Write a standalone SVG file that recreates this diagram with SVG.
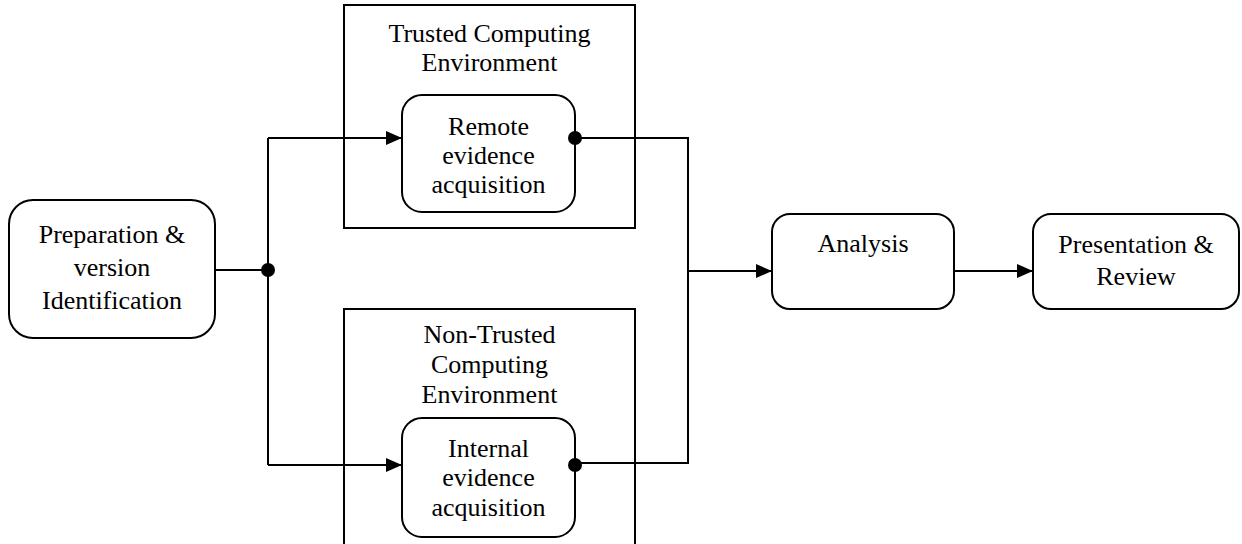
<svg xmlns="http://www.w3.org/2000/svg" width="1242" height="544" viewBox="0 0 1242 544">
<style>
.box{fill:#fff;stroke:#000;stroke-width:2}
.cont{fill:none;stroke:#000;stroke-width:2}
.ln{fill:none;stroke:#000;stroke-width:2}
.dot{fill:#000}
text{font-family:"Liberation Serif","Times New Roman",serif;font-size:26px;fill:#000;text-anchor:middle}
</style>
<defs>
<marker id="arr" viewBox="0 0 16 14" refX="16" refY="7" markerWidth="16" markerHeight="14" markerUnits="userSpaceOnUse" orient="auto">
<path d="M0,0 L16,7 L0,14 Z" fill="#000"/>
</marker>
</defs>
<g id="trusted-env">
<rect class="cont" x="344" y="5" width="291" height="223"/>
<text x="489.5" y="42">Trusted Computing</text>
<text x="489.5" y="71">Environment</text>
</g>
<g id="nontrusted-env">
<rect class="cont" x="344" y="309" width="291" height="260"/>
<text x="489.5" y="343">Non-Trusted</text>
<text x="489.5" y="373">Computing</text>
<text x="489.5" y="403">Environment</text>
</g>
<g id="connectors">
<path class="ln" d="M215,270 H268"/>
<path class="ln" d="M268,138 V465"/>
<path class="ln" d="M268,138 H402" marker-end="url(#arr)"/>
<path class="ln" d="M268,465 H402" marker-end="url(#arr)"/>
<path class="ln" d="M575,138 H688 V463 H575"/>
<path class="ln" d="M688,271 H772" marker-end="url(#arr)"/>
<path class="ln" d="M954,271 H1033" marker-end="url(#arr)"/>
<circle class="dot" cx="268" cy="270" r="7"/>
</g>
<g id="prep">
<rect class="box" x="9" y="200" width="206" height="138" rx="24"/>
<text x="112" y="243">Preparation &amp;</text>
<text x="112" y="276">version</text>
<text x="112" y="309">Identification</text>
</g>
<g id="remote">
<rect class="box" x="402" y="95" width="173" height="117" rx="20"/>
<text x="488.5" y="135">Remote</text>
<text x="488.5" y="164">evidence</text>
<text x="488.5" y="193">acquisition</text>
<circle class="dot" cx="575" cy="138" r="7"/>
</g>
<g id="internal">
<rect class="box" x="402" y="418" width="173" height="119" rx="20"/>
<text x="488.5" y="457">Internal</text>
<text x="488.5" y="486">evidence</text>
<text x="488.5" y="516">acquisition</text>
<circle class="dot" cx="575" cy="465" r="7"/>
</g>
<g id="analysis">
<rect class="box" x="772" y="214" width="182" height="95" rx="18"/>
<text x="863" y="252">Analysis</text>
</g>
<g id="presentation">
<rect class="box" x="1033" y="214" width="206" height="95" rx="18"/>
<text x="1136" y="253">Presentation &amp;</text>
<text x="1136" y="285">Review</text>
</g>
</svg>
